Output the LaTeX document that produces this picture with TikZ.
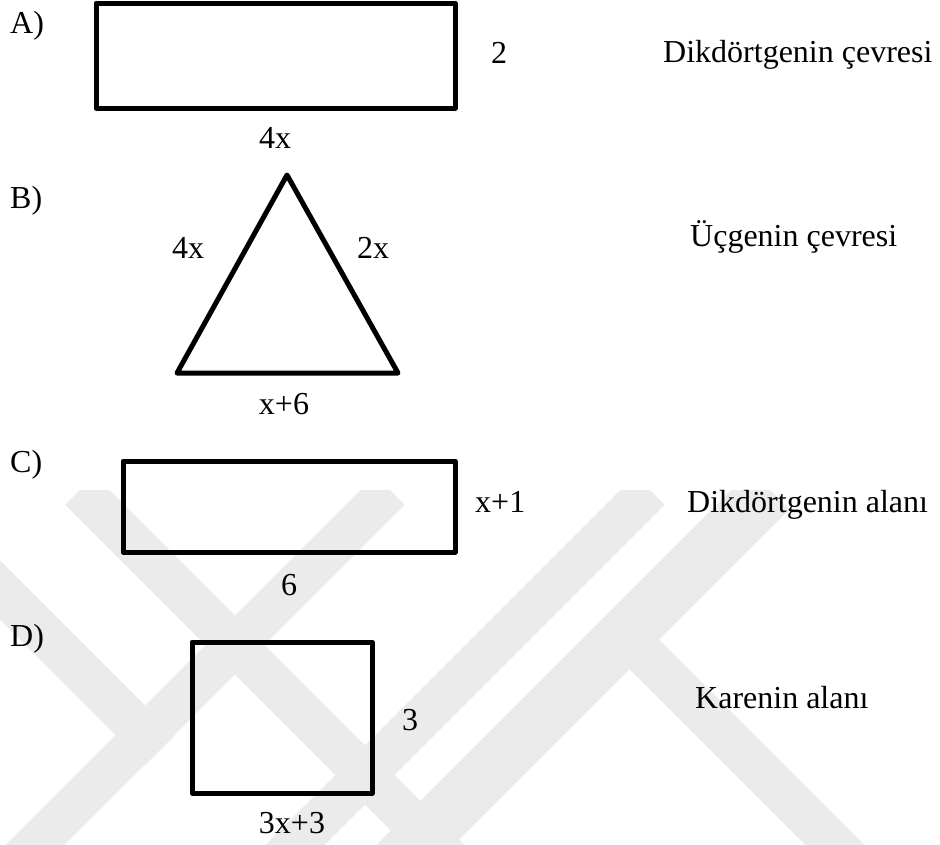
\documentclass[tikz,border=0pt]{standalone}
\usepackage{fontspec}
\setmainfont{Liberation Serif}
\newfontfamily\tezfont{Liberation Serif}
\usetikzlibrary{positioning}

\begin{document}
\begin{tikzpicture}[
    x=1pt, y=-1pt,
    sekil/.style={line width=5pt, line join=round, line cap=round},
    etiket/.style={inner sep=0pt, font=\tezfont\fontsize{32}{38}\selectfont, anchor=base},
    aciklama/.style={etiket, anchor=base west},
    filigran/.style={line width=42pt, black!8}
]
\useasboundingbox (0,0) rectangle (940,844);

% Filigran
\begin{scope}
\clip (0,490) rectangle (940,844);
\draw[filigran] (390,490) -- (10,870);
\draw[filigran] (80,490) -- (228,638);
\draw[filigran] (-30,560) -- (160,750);
\draw[filigran] (228,638) -- (460,870);
\draw[filigran] (650,490) -- (270,870);
\draw[filigran, line width=55pt] (770,490) -- (390,870);
\draw[filigran] (606,616) -- (860,870);
\end{scope}

% Secenek harfleri
\node[aciklama] (harfA) at (10,33) {A)};
\node[aciklama] (harfB) at (10,208) {B)};
\node[aciklama] (harfC) at (10,472) {C)};
\node[aciklama] (harfD) at (10,646) {D)};

% A) dikdortgen
\draw[sekil] (96,3) rectangle (455,108);
\node[etiket] (aKisa) at (499,63) {2};
\node[etiket] (aUzun) at (275,148) {4x};
\node[aciklama] (aSoru) at (663,62) {Dikdörtgenin çevresi};

% B) ucgen
\draw[sekil] (287,175) -- (398,373) -- (177,373) -- cycle;
\node[etiket] (bSol) at (188,258) {4x};
\node[etiket] (bSag) at (373,258) {2x};
\node[etiket] (bAlt) at (284,414) {x+6};
\node[aciklama] (bSoru) at (690,246) {Üçgenin çevresi};

% C) dikdortgen
\draw[sekil] (123,461) rectangle (455,552);
\node[aciklama] (cKisa) at (475,512) {x+1};
\node[etiket] (cUzun) at (289,595) {6};
\node[aciklama] (cSoru) at (687,512) {Dikdörtgenin alanı};

% D) kare
\draw[sekil] (192,642) rectangle (372,793);
\node[etiket] (dKisa) at (410,730) {3};
\node[etiket] (dUzun) at (292,833) {3x+3};
\node[aciklama] (dSoru) at (695,708) {Karenin alanı};

\end{tikzpicture}
\end{document}
